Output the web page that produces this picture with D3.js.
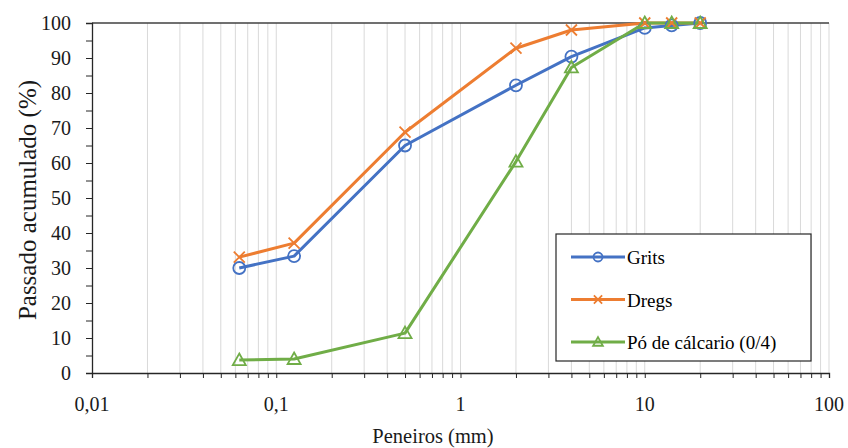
<!DOCTYPE html>
<html><head><meta charset="utf-8">
<script src="https://cdn.jsdelivr.net/npm/d3@7"></script>
</head><body style="margin:0">
<svg id="c" width="848" height="448"></svg>
<script>
const sieves = [0.063, 0.125, 0.5, 2, 4, 10, 14, 20];
const grits = [30, 33.4, 65, 82.2, 90.4, 98.6, 99.3, 100];
const dregs = [33.1, 37.1, 68.8, 92.8, 98, 100, 100, 100];
const po = [3.7, 4, 11.4, 60.4, 87.3, 100, 100, 100];
const seriesNames = ["Grits", "Dregs", "Pó de cálcario (0/4)"];
const colors = ["#4472C4", "#ED7D31", "#70AD47"];
const xTickVals = [0.01, 0.1, 1, 10, 100];
const xTickLabels = ["0,01", "0,1", "1", "10", "100"];
const yTickVals = [0,10,20,30,40,50,60,70,80,90,100];

const FONT = '"Liberation Serif"';
const svg = d3.select("#c");
const L = 92, R = 829, T = 23, B = 373;
const x = d3.scaleLog().domain([0.01, 100]).range([L, R]);
const y = d3.scaleLinear().domain([0, 100]).range([B, T]);

const minors = [];
for (let e = -2; e < 2; e++) for (let m = 1; m <= 9; m++) { const v = m * Math.pow(10, e); if (v > 0.01) minors.push(v); }
minors.push(100);
svg.append("g").selectAll("line").data(minors).join("line")
  .attr("x1", d => x(d)).attr("x2", d => x(d)).attr("y1", T).attr("y2", B)
  .attr("stroke", "#d9d9d9").attr("stroke-width", 1);
svg.append("line").attr("x1", L).attr("x2", R).attr("y1", T).attr("y2", T).attr("stroke", "#404040").attr("stroke-width", 1.3);

const xAxis = d3.axisBottom(x).tickValues([0.01, ...minors]).tickSize(5).tickFormat("");
const gx = svg.append("g").attr("transform", `translate(0,${B})`).call(xAxis);
gx.select(".domain").attr("stroke", "#262626").attr("stroke-width", 1.3);
gx.selectAll(".tick line").attr("stroke", "#262626");
svg.append("g").selectAll("text").data(xTickVals).join("text")
  .attr("x", d => x(d)).attr("y", 411).attr("text-anchor", "middle")
  .style("font-family", FONT).style("font-size", "20px").attr("fill", "#1a1a1a")
  .text((d, i) => xTickLabels[i]);

const yAxis = d3.axisLeft(y).tickValues(d3.range(0, 101, 5)).tickSize(6).tickFormat("");
const gy = svg.append("g").attr("transform", `translate(${L},0)`).call(yAxis);
gy.select(".domain").attr("stroke", "#262626").attr("stroke-width", 1.3);
gy.selectAll(".tick line").attr("stroke", "#262626");
svg.append("g").selectAll("text").data(yTickVals).join("text")
  .attr("x", 71).attr("y", d => y(d) + 7).attr("text-anchor", "end")
  .style("font-family", FONT).style("font-size", "20px").attr("fill", "#1a1a1a")
  .text(d => d);

svg.append("text").attr("x", 433).attr("y", 443).attr("text-anchor", "middle")
  .style("font-family", FONT).style("font-size", "20.5px").attr("fill", "#1a1a1a").text("Peneiros (mm)");
svg.append("text").attr("transform", "translate(36,200) rotate(-90)").attr("text-anchor", "middle")
  .style("font-family", FONT).style("font-size", "25px").attr("fill", "#1a1a1a").text("Passado acumulado (%)");

const data = [grits, dregs, po];
const line = d3.line().x(d => x(d[0])).y(d => y(d[1]));

function marker(g, type, cx, cy, color, k) {
  if (type === 0) {
    g.append("circle").attr("cx", cx).attr("cy", cy).attr("r", 6 * k).attr("fill", "none").attr("stroke", color).attr("stroke-width", 1.8);
  } else if (type === 1) {
    const s = 5.5 * k;
    g.append("path").attr("d", `M${cx-s},${cy-s}L${cx+s},${cy+s}M${cx-s},${cy+s}L${cx+s},${cy-s}`).attr("stroke", color).attr("stroke-width", 1.8).attr("fill", "none");
  } else {
    const s = 6.5 * k;
    g.append("path").attr("d", `M${cx},${cy-s}L${cx+s},${cy+s*0.77}L${cx-s},${cy+s*0.77}Z`).attr("stroke", color).attr("stroke-width", 1.8).attr("fill", "none");
  }
}

data.forEach((vals, i) => {
  const pts = sieves.map((s, j) => [s, vals[j]]);
  svg.append("path").attr("d", line(pts)).attr("fill", "none").attr("stroke", colors[i]).attr("stroke-width", 3).attr("stroke-linejoin", "round");
});
data.forEach((vals, i) => {
  const g = svg.append("g");
  sieves.forEach((s, j) => marker(g, i, x(s), y(vals[j]), colors[i], 1));
});

const lg = svg.append("g");
lg.append("rect").attr("x", 556).attr("y", 234).attr("width", 255).attr("height", 127).attr("fill", "#fff").attr("stroke", "#262626").attr("stroke-width", 1.2);
seriesNames.forEach((n, i) => {
  const ly = 257 + i * 42.5;
  lg.append("line").attr("x1", 571).attr("x2", 625).attr("y1", ly).attr("y2", ly).attr("stroke", colors[i]).attr("stroke-width", 3);
  marker(lg, i, 598, ly, colors[i], 0.75);
  lg.append("text").attr("x", 627).attr("y", ly + 7).style("font-family", FONT).style("font-size", "19px").attr("fill", "#000").text(n);
});
</script>
</body></html>
